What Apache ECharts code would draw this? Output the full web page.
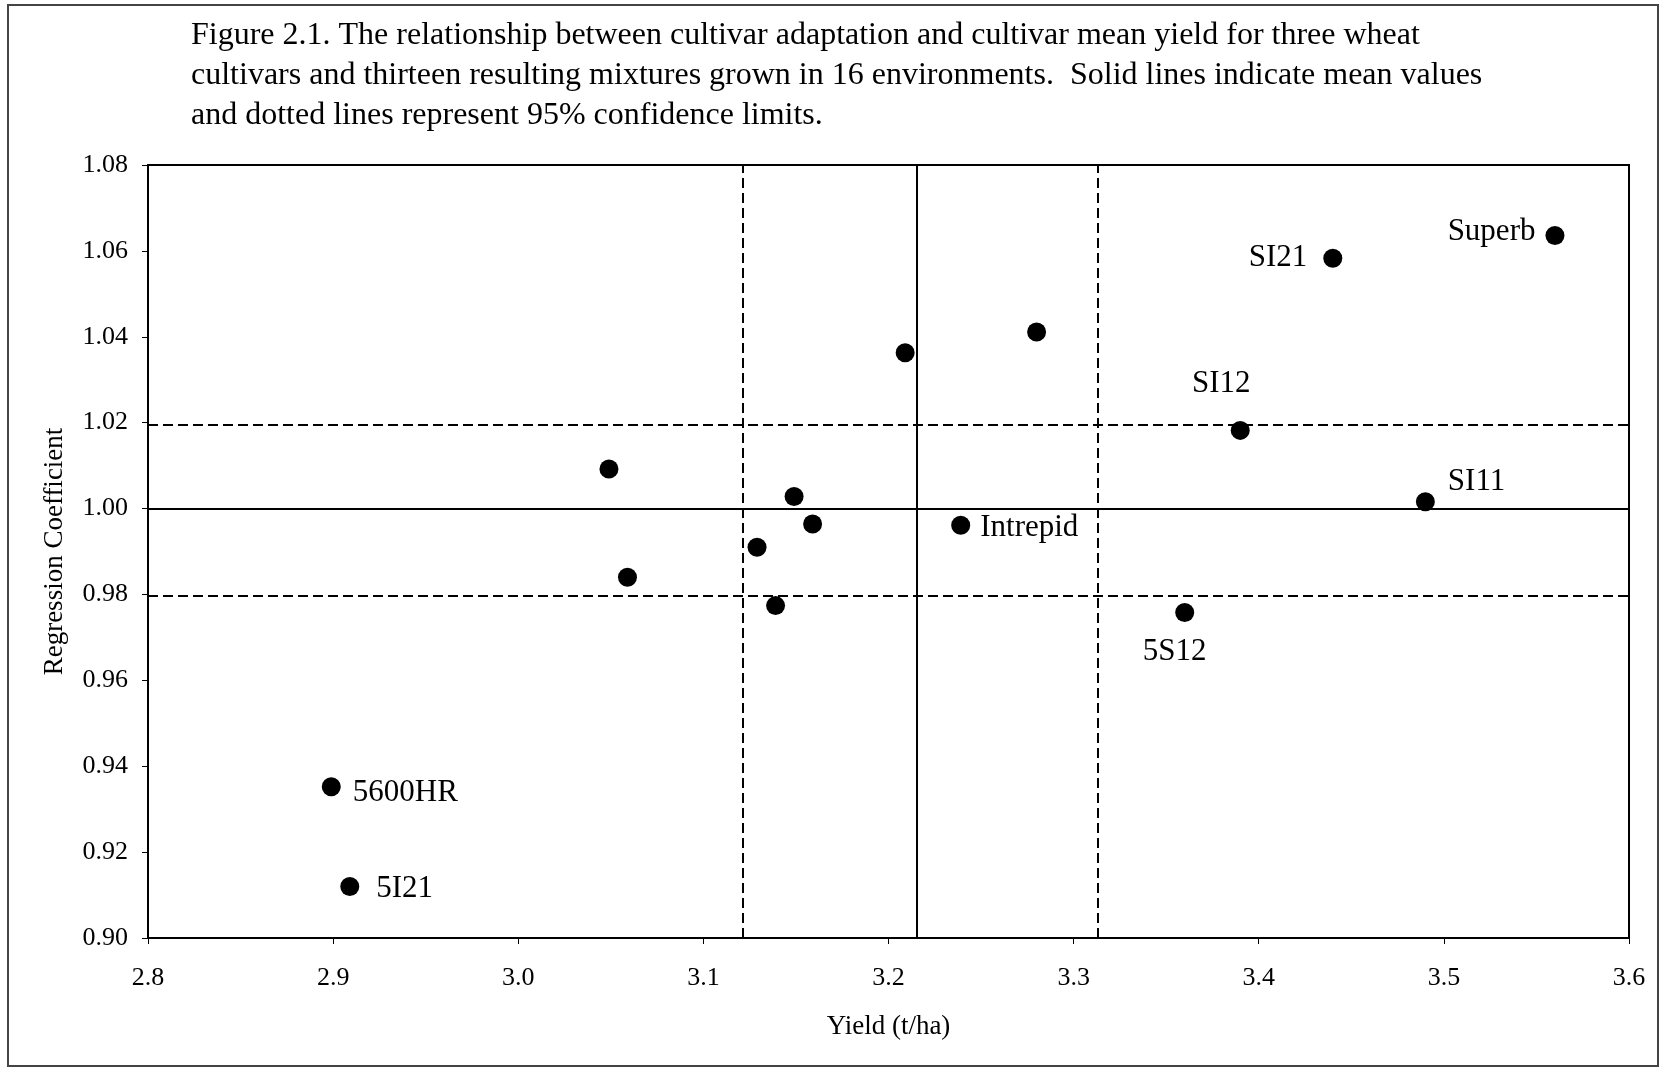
<!DOCTYPE html>
<html>
<head>
<meta charset="utf-8">
<script src="https://cdn.jsdelivr.net/npm/echarts@6/dist/echarts.min.js"></script>
<style>
html,body{margin:0;padding:0;background:#fff;}
#chart{width:1661px;height:1069px;}
</style>
</head>
<body>
<div id="chart"></div>
<script>
// ---- data ----
var pointLabels = ["Superb","SI21","","","SI12","","","SI11","","Intrepid","","","","5S12","5600HR","5I21"];
var yields      = [3.560, 3.440, 3.280, 3.209, 3.390, 3.049, 3.149, 3.490, 3.159, 3.239, 3.129, 3.059, 3.139, 3.360, 2.899, 2.909];
var coefs       = [1.0636, 1.0583, 1.0411, 1.0363, 1.0182, 1.0092, 1.0028, 1.0016, 0.9964, 0.9961, 0.9910, 0.9840, 0.9774, 0.9758, 0.9352, 0.9120];
var meanYield = 3.215;
var yieldCI   = [3.121, 3.313];
var meanCoef  = 1.000;
var coefCI    = [0.9796, 1.0194];
var xTickLabels = ["2.8","2.9","3.0","3.1","3.2","3.3","3.4","3.5","3.6"];
var yTickLabels = ["0.90","0.92","0.94","0.96","0.98","1.00","1.02","1.04","1.06","1.08"];
var titleLines = [
  "Figure 2.1. The relationship between cultivar adaptation and cultivar mean yield for three wheat",
  "cultivars and thirteen resulting mixtures grown in 16 environments.  Solid lines indicate mean values",
  "and dotted lines represent 95% confidence limits."
];
var xName = "Yield (t/ha)";
var yName = "Regression Coefficient";

// ---- label placement (style only) ----
var labelPlacement = {
  "Superb":   {position:"left",   distance:10, offset:[0,-4]},
  "SI21":     {position:"left",   distance:16, offset:[0,0]},
  "SI12":     {position:"top",    distance:22, offset:[-19,0]},
  "SI11":     {position:"right",  distance:13, offset:[0,-20]},
  "Intrepid": {position:"right",  distance:10, offset:[0,3]},
  "5S12":     {position:"bottom", distance:14, offset:[-10,0]},
  "5600HR":   {position:"right",  distance:12, offset:[0,6]},
  "5I21":     {position:"right",  distance:17, offset:[0,2]}
};

var FONT = "'Liberation Serif','Times New Roman',serif";
var X_MIN = 2.8, X_INT = 0.1, Y_MIN = 0.90, Y_INT = 0.02;

var seriesData = yields.map(function(x, i){
  var item = {value:[x, coefs[i]], name:pointLabels[i]};
  var p = labelPlacement[pointLabels[i]];
  if (pointLabels[i] && p) {
    item.label = {show:true, formatter:pointLabels[i], position:p.position, distance:p.distance, offset:p.offset};
  }
  return item;
});

var solid = {type:'solid', color:'#000', width:2, opacity:1};
var dashed = {type:[10,5], color:'#000', width:2, opacity:1};

var chart = echarts.init(document.getElementById('chart'), null, {renderer:'canvas'});
chart.setOption({
  backgroundColor:'#fff',
  animation:false,
  title:{
    text:titleLines.join('\n'),
    left:191, top:16, padding:0,
    textStyle:{fontFamily:FONT, fontSize:32, fontWeight:'normal', color:'#000', lineHeight:40}
  },
  graphic:[{
    type:'rect', shape:{x:8, y:5, width:1650, height:1061},
    style:{fill:'none', stroke:'#444', lineWidth:2}, silent:true, z:-1
  }],
  grid:{left:148, right:32, top:165, bottom:131, show:true, borderColor:'#000', borderWidth:2, backgroundColor:'transparent'},
  xAxis:{
    type:'value', min:X_MIN, max:3.6, interval:X_INT,
    name:xName, nameLocation:'middle', nameGap:75,
    nameTextStyle:{fontFamily:FONT, fontSize:27, color:'#000'},
    axisLine:{show:true, lineStyle:{color:'#000', width:2}},
    axisTick:{show:true, length:6, lineStyle:{color:'#000', width:1}},
    axisLabel:{margin:27, fontFamily:FONT, fontSize:26, color:'#000',
      formatter:function(v){ return xTickLabels[Math.round((v - X_MIN)/X_INT)]; }},
    splitLine:{show:false}
  },
  yAxis:{
    type:'value', min:Y_MIN, max:1.08, interval:Y_INT,
    name:yName, nameLocation:'middle', nameGap:80, nameRotate:90,
    nameTextStyle:{fontFamily:FONT, fontSize:27, color:'#000'},
    axisLine:{show:true, lineStyle:{color:'#000', width:2}},
    axisTick:{show:true, length:6, lineStyle:{color:'#000', width:1}},
    axisLabel:{margin:20, fontFamily:FONT, fontSize:26, color:'#000',
      formatter:function(v){ return yTickLabels[Math.round((v - Y_MIN)/Y_INT)]; }},
    splitLine:{show:false}
  },
  series:[{
    type:'scatter',
    symbol:'circle', symbolSize:19,
    itemStyle:{color:'#000', opacity:1},
    label:{show:false, fontFamily:FONT, fontSize:31, color:'#000'},
    data:seriesData,
    z:5,
    markLine:{
      silent:true, symbol:['none','none'], label:{show:false},
      precision:4,
      animation:false,
      data:[
        {xAxis:meanYield, lineStyle:solid},
        {xAxis:yieldCI[0], lineStyle:dashed},
        {xAxis:yieldCI[1], lineStyle:dashed},
        {yAxis:meanCoef, lineStyle:solid},
        {yAxis:coefCI[0], lineStyle:dashed},
        {yAxis:coefCI[1], lineStyle:dashed}
      ]
    }
  }]
});
</script>
</body>
</html>
